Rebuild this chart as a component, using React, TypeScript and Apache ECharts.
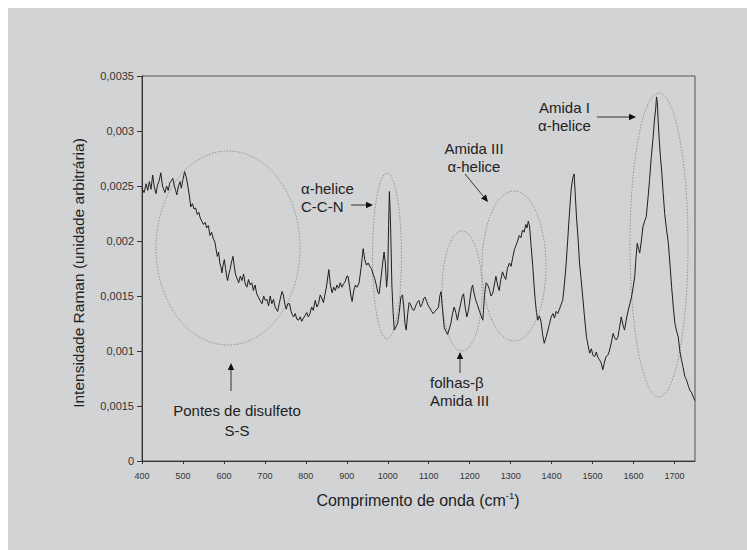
import React, { useEffect, useRef } from "react";
import * as echarts from "echarts";

const wavenumbers = [
  400, 405, 410, 414, 418, 422, 426, 430, 434, 438, 442, 446, 450, 453, 456, 460, 464, 468, 472, 475, 479, 482, 485, 489, 493, 496,
  500, 504, 508, 512, 516, 519, 523, 527, 531, 535, 539, 542, 546, 550, 554, 558, 562, 566, 570, 574, 578, 581, 584, 587, 590, 593,
  595, 598, 601, 604, 607, 609, 612, 615, 618, 622, 625, 628, 632, 636, 640, 644, 648, 652, 656, 660, 664, 668, 672, 676, 680, 684,
  688, 693, 697, 701, 705, 709, 713, 717, 721, 725, 728, 731, 735, 739, 742, 745, 749, 752, 756, 760, 764, 767, 770, 774, 778, 782,
  786, 790, 794, 798, 802, 806, 810, 814, 818, 823, 827, 831, 835, 839, 843, 847, 851, 856, 860, 864, 868, 872, 876, 880, 884, 888,
  892, 896, 900, 903, 907, 910, 913, 917, 921, 925, 930, 935, 940, 944, 948, 952, 956, 960, 964, 968, 972, 976, 979, 983, 987, 991,
  994, 997, 1000, 1002, 1004, 1006, 1008, 1010, 1013, 1016, 1020, 1024, 1028, 1032, 1036, 1039, 1042, 1045, 1049, 1052, 1056, 1060,
  1064, 1068, 1072, 1076, 1080, 1084, 1088, 1091, 1095, 1099, 1103, 1107, 1111, 1115, 1120, 1124, 1127, 1130, 1134, 1138, 1142, 1146,
  1150, 1154, 1158, 1162, 1166, 1170, 1174, 1178, 1182, 1185, 1189, 1193, 1197, 1201, 1204, 1207, 1211, 1215, 1219, 1223, 1228, 1232,
  1236, 1240, 1244, 1248, 1252, 1256, 1260, 1264, 1268, 1272, 1276, 1280, 1284, 1288, 1292, 1297, 1301, 1305, 1309, 1313, 1317, 1321,
  1325, 1329, 1333, 1337, 1340, 1343, 1346, 1350, 1354, 1357, 1360, 1363, 1366, 1370, 1374, 1378, 1382, 1386, 1391, 1395, 1399, 1403,
  1407, 1411, 1415, 1419, 1423, 1427, 1431, 1435, 1440, 1444, 1448, 1452, 1455, 1458, 1461, 1465, 1468, 1472, 1476, 1480, 1485, 1489,
  1493, 1497, 1501, 1505, 1509, 1513, 1517, 1521, 1525, 1529, 1533, 1537, 1541, 1546, 1550, 1554, 1558, 1562, 1566, 1570, 1574, 1578,
  1582, 1587, 1591, 1595, 1599, 1603, 1606, 1609, 1612, 1615, 1619, 1623, 1627, 1631, 1635, 1639, 1643, 1648, 1651, 1654, 1656, 1658,
  1660, 1663, 1666, 1669, 1672, 1676, 1680, 1685, 1689, 1693, 1697, 1701, 1705, 1709, 1713, 1717, 1721, 1725, 1729, 1734, 1738, 1742,
  1746, 1750,
];

const intensities = [
  0.00248, 0.00244, 0.00252, 0.00246, 0.00254, 0.00247, 0.0026, 0.00249, 0.00243, 0.00251, 0.00255, 0.00262, 0.0025, 0.00247, 0.00244,
  0.0025, 0.00246, 0.00253, 0.00255, 0.00257, 0.0025, 0.00246, 0.00242, 0.0025, 0.00254, 0.00248,
  0.00256, 0.00263, 0.00258, 0.0025, 0.0024, 0.00231, 0.00234, 0.00229, 0.0023, 0.00224, 0.00226, 0.00221, 0.00218, 0.00215, 0.00217,
  0.00212, 0.00214, 0.00205, 0.00208, 0.00202, 0.00199, 0.00192, 0.00186, 0.0019, 0.0018, 0.00176,
  0.00171, 0.00178, 0.00183, 0.00175, 0.00167, 0.00164, 0.0017, 0.00174, 0.0018, 0.00186, 0.00178, 0.0017, 0.00166, 0.00162, 0.00168,
  0.00164, 0.0017, 0.00161, 0.00158, 0.00165, 0.0016, 0.00162, 0.00155, 0.0016, 0.00152, 0.00149,
  0.00146, 0.00143, 0.0015, 0.00146, 0.00147, 0.00141, 0.0015, 0.00143, 0.00147, 0.0014, 0.00138, 0.00136, 0.00143, 0.0015, 0.00154,
  0.00151, 0.00142, 0.00138, 0.00143, 0.00143, 0.00136, 0.00133, 0.00131, 0.00134, 0.00129, 0.00128,
  0.00131, 0.00127, 0.0013, 0.00132, 0.00135, 0.00131, 0.00134, 0.0014, 0.00137, 0.00146, 0.0014, 0.00143, 0.00151, 0.00148, 0.00144,
  0.00152, 0.0016, 0.00174, 0.0016, 0.00153, 0.00158, 0.00155, 0.0016, 0.00157, 0.00162, 0.00158,
  0.00161, 0.00163, 0.00168, 0.00168, 0.00158, 0.0015, 0.00145, 0.00155, 0.0016, 0.00158, 0.00162, 0.00176, 0.00193, 0.00183, 0.00178,
  0.0018, 0.00177, 0.00175, 0.0017, 0.00166, 0.0016, 0.00153, 0.00152, 0.00165, 0.00178, 0.0019,
  0.0018, 0.00158, 0.0017, 0.00215, 0.00245, 0.00225, 0.00195, 0.0016, 0.00135, 0.00119, 0.00122, 0.00125, 0.00135, 0.00149, 0.00151,
  0.0014, 0.00125, 0.00119, 0.00135, 0.00144, 0.00142, 0.00138,
  0.00137, 0.00141, 0.00144, 0.00146, 0.0014, 0.00143, 0.00148, 0.00149, 0.00145, 0.00141, 0.00139, 0.00136, 0.00134, 0.00136, 0.00138,
  0.0014, 0.0015, 0.00154, 0.00136, 0.00121, 0.00118, 0.00115,
  0.0012, 0.00125, 0.00134, 0.0014, 0.00135, 0.00128, 0.00136, 0.00143, 0.0015, 0.00152, 0.0014, 0.00131, 0.00137, 0.00148, 0.00156,
  0.0016, 0.00152, 0.00146, 0.00142, 0.00137, 0.00132, 0.00128,
  0.0015, 0.00162, 0.0016, 0.00156, 0.0015, 0.00152, 0.0016, 0.00168, 0.0016, 0.00155, 0.00165, 0.00172, 0.00168, 0.00165, 0.00175,
  0.0018, 0.00177, 0.00185, 0.00192, 0.00196, 0.002, 0.00205,
  0.00203, 0.0021, 0.00208, 0.00215, 0.00212, 0.00218, 0.00214, 0.00195, 0.00177, 0.0016, 0.00146, 0.00135, 0.00128, 0.00132, 0.00127,
  0.00115, 0.00107, 0.00112, 0.00119, 0.00125, 0.00131, 0.00134,
  0.0013, 0.00136, 0.00134, 0.00138, 0.00142, 0.00146, 0.0016, 0.00177, 0.00205, 0.00228, 0.00248, 0.00258, 0.00261, 0.0024, 0.0022,
  0.002, 0.0018, 0.00165, 0.00149, 0.00132, 0.00113, 0.00105,
  0.00098, 0.00102, 0.00096, 0.00095, 0.00099, 0.00094, 0.00092, 0.00089, 0.00083, 0.0009, 0.00095, 0.00096, 0.001, 0.00108, 0.00116,
  0.00112, 0.0011, 0.00113, 0.00122, 0.00131, 0.00124, 0.00119,
  0.00128, 0.00137, 0.00143, 0.00149, 0.00158, 0.00168, 0.00185, 0.00198, 0.00193, 0.00189, 0.002, 0.00213, 0.00218, 0.00222, 0.00238,
  0.00255, 0.00275, 0.00295, 0.0031, 0.0032, 0.00331, 0.00326,
  0.0031, 0.0029, 0.00275, 0.00262, 0.00245, 0.00225, 0.00212, 0.00198, 0.00178, 0.00158, 0.0014, 0.00125, 0.00118, 0.00113, 0.001,
  0.00092, 0.00085, 0.00077, 0.00074, 0.00068, 0.00064, 0.00062,
  0.00058, 0.00055,
];

// Tick labels exactly as printed in the original (including its typo at 0.0005)
const yTickLabels = ["0", "0,0015", "0,001", "0,0015", "0,002", "0,0025", "0,003", "0,0035"];

const FONT = "Liberation Sans, Arial, sans-serif";
const INK = "#222";

function arrow(x1: number, y1: number, x2: number, y2: number) {
  const dx = x2 - x1;
  const dy = y2 - y1;
  const len = Math.sqrt(dx * dx + dy * dy);
  const ux = dx / len;
  const uy = dy / len;
  const hl = 7;
  const hw = 3.2;
  const bx = x2 - ux * hl;
  const by = y2 - uy * hl;
  return [
    {
      type: "line",
      shape: { x1, y1, x2: bx, y2: by },
      style: { stroke: "#333", lineWidth: 1 },
      silent: true,
    },
    {
      type: "polygon",
      shape: {
        points: [
          [x2, y2],
          [bx - uy * hw, by + ux * hw],
          [bx + uy * hw, by - ux * hw],
        ],
      },
      style: { fill: "#111" },
      silent: true,
    },
  ];
}

function ellipse(cx: number, cy: number, rx: number, ry: number) {
  return {
    type: "ellipse",
    shape: { cx, cy, rx, ry },
    style: { fill: "none", stroke: "#858585", lineWidth: 0.8, lineDash: [1.5, 1.5] },
    silent: true,
  };
}

function label(text: string, x: number, y: number, align: string = "left", size: number = 15) {
  return {
    type: "text",
    x,
    y,
    style: {
      text,
      fill: INK,
      font: `${size}px ${FONT}`,
      align,
      verticalAlign: "middle",
    },
    silent: true,
  };
}

export default function App() {
  const ref = useRef<HTMLDivElement>(null);

  useEffect(() => {
    if (!ref.current) return;
    const chart = echarts.init(ref.current, undefined, { renderer: "svg" });
    const data = wavenumbers.map((w, i) => [w, intensities[i]]);

    chart.setOption({
      animation: false,
      backgroundColor: "#d2d3d5",
      grid: {
        left: 134,
        right: 52,
        top: 68,
        bottom: 89,
        show: true,
        borderColor: "#555",
        borderWidth: 1,
        backgroundColor: "transparent",
      },
      xAxis: {
        type: "value",
        min: 400,
        max: 1750,
        interval: 100,
        axisLine: { show: true, onZero: false, lineStyle: { color: "#333", width: 1 } },
        axisTick: { show: true, inside: false, length: 3, lineStyle: { color: "#333" } },
        splitLine: { show: false },
        axisLabel: {
          fontSize: 9,
          color: "#333",
          fontFamily: FONT,
          margin: 10,
          showMaxLabel: false,
          formatter: (v: number) => (v === 1750 ? "" : String(v)),
        },
      },
      yAxis: {
        type: "value",
        min: 0,
        max: 0.0035,
        interval: 0.0005,
        axisLine: { show: true, lineStyle: { color: "#333", width: 1 } },
        axisTick: { show: true, inside: false, length: 5, lineStyle: { color: "#333" } },
        splitLine: { show: false },
        axisLabel: {
          fontSize: 11,
          color: "#333",
          fontFamily: FONT,
          margin: 8,
          formatter: (v: number) => yTickLabels[Math.round(v / 0.0005)] ?? "",
        },
      },
      series: [
        {
          type: "line",
          data,
          showSymbol: false,
          symbol: "none",
          lineStyle: { color: "#1e1e1e", width: 1 },
          silent: true,
        },
      ],
      graphic: [
        // axis titles
        {
          type: "text",
          x: 70,
          y: 265,
          rotation: Math.PI / 2,
          style: {
            text: "Intensidade Raman (unidade arbitrária)",
            fill: INK,
            font: `15.5px ${FONT}`,
            align: "center",
            verticalAlign: "middle",
          },
          silent: true,
        },
        {
          type: "text",
          x: 410,
          y: 492,
          style: {
            text: "{a|Comprimento de onda (cm}{s|-1}{a|)}",
            fill: INK,
            align: "center",
            verticalAlign: "middle",
            rich: {
              a: { font: `16px ${FONT}`, fill: INK, lineHeight: 20 },
              s: { font: `9.5px ${FONT}`, fill: INK, lineHeight: 20, padding: [0, 0, 9, 0] },
            },
          },
          silent: true,
        },
        // ellipses
        ellipse(220, 240, 72, 97),
        ellipse(379, 248, 14.5, 83),
        ellipse(454, 283, 20, 60),
        ellipse(506, 258, 32, 75),
        ellipse(651, 237, 29, 152),
        // annotation texts
        label("α-helice", 293, 180),
        label("C-C-N", 293, 198),
        label("Amida III", 466, 140, "center"),
        label("α-helice", 466, 158, "center"),
        label("Amida I", 531, 99),
        label("α-helice", 530, 117),
        label("Pontes de disulfeto", 229, 402, "center"),
        label("S-S", 229, 422, "center"),
        label("folhas-β", 422, 374),
        label("Amida III", 422, 392),
        // arrows
        ...arrow(343, 197, 365, 197),
        ...arrow(457, 166, 480, 194),
        ...arrow(589, 109, 628, 109),
        ...arrow(223, 383, 223, 355),
        ...arrow(452, 365, 452, 344),
      ],
    });

    return () => chart.dispose();
  }, []);

  return (
    <div
      ref={ref}
      style={{ position: "absolute", left: 8, top: 8, width: 739, height: 542 }}
    />
  );
}
